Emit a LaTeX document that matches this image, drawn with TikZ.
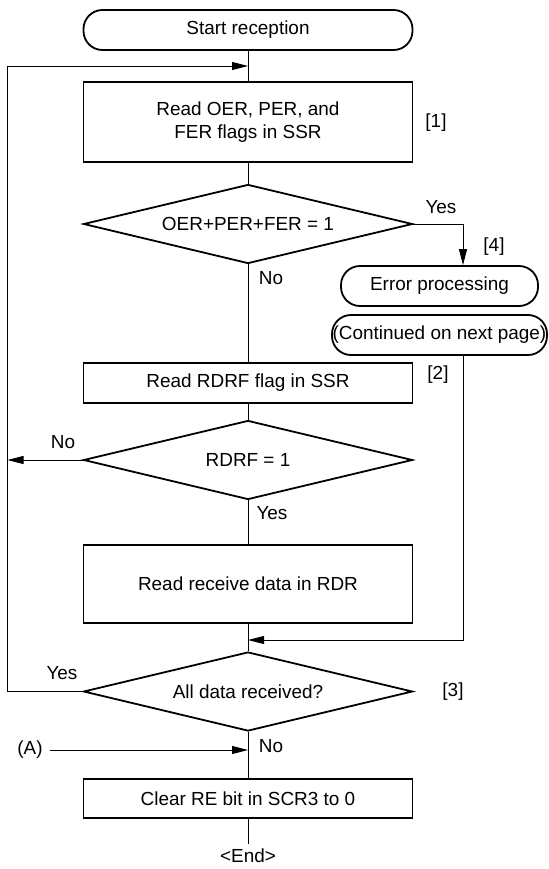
\documentclass[tikz,border=0pt]{standalone}
\usepackage{fontspec}
\setmainfont{Liberation Sans}
\usetikzlibrary{shapes.geometric,arrows.meta}

\begin{document}
\begin{tikzpicture}[x=1bp, y=-1bp,
        every node/.style={font=\fontsize{19}{23}\selectfont, inner sep=0pt},
        term/.style={draw, line width=1.8bp, rounded corners=19bp, minimum height=40bp},
        proc/.style={draw, line width=1.8bp, minimum width=329bp, align=center},
        test/.style={draw, line width=1.8bp, diamond, aspect=4.16, minimum width=329bp, minimum height=79bp},
        line/.style={line width=0.9bp},
        arrow/.style={line width=0.9bp, -{Triangle[length=16bp, width=8bp]}}]
        \useasboundingbox (0,0) rectangle (549,869);

        % Coordinates
        \coordinate (J1) at (248,66);
        \coordinate (J2) at (248,640);
        \coordinate (J3) at (248,750);
        \coordinate (L1) at (7.5,66);
        \coordinate (L2) at (7.5,460);
        \coordinate (L3) at (7.5,691.5);
        \coordinate (B1) at (463,224);
        \coordinate (B2) at (463,640);
        \coordinate (E1) at (248,844);

        % Nodes
        \node[term, minimum width=329bp] (start) at (248,30) {Start reception};
        \node[proc, minimum height=80bp] (rd1) at (248,122) {Read OER, PER, and\\FER flags in SSR};
        \node[test] (chk1) at (248,224) {OER+PER+FER = 1};
        \node[term, minimum width=197bp] (err) at (439.5,286) {Error processing};
        \node[term, minimum width=215bp] (cont) at (439.5,335) {(Continued on next page)};
        \node[proc, minimum height=40bp] (rd2) at (248,383) {Read RDRF flag in SSR};
        \node[test] (chk2) at (248,460) {RDRF = 1};
        \node[proc, minimum height=78bp] (rd3) at (248,584) {Read receive data in RDR};
        \node[test] (chk3) at (248,691.5) {All data received?};
        \node[proc, minimum height=39bp] (clr) at (248,798.5) {Clear RE bit in SCR3 to 0};
        \node (fin) at (248,856) {<End>};
        \node (A) at (30,750) {(A)};

        % Labels
        \node at (436,123) {[1]};
        \node at (438,375) {[2]};
        \node at (453,691.5) {[3]};
        \node at (494,247) {[4]};
        \node at (441,207) {Yes};
        \node at (271,278) {No};
        \node at (63,442) {No};
        \node at (272,513) {Yes};
        \node at (62,673) {Yes};
        \node at (271,746) {No};

        % Drawing
        \draw[line] (start) -- (rd1);
        \draw[line] (rd1) -- (chk1);
        \draw[line] (chk1) -- (rd2);
        \draw[line] (rd2) -- (chk2);
        \draw[line] (chk2) -- (rd3);
        \draw[line] (rd3) -- (chk3);
        \draw[line] (chk3) -- (clr);
        \draw[line] (clr) -- (E1);
        \draw[arrow] (L1) -- (J1);
        \draw[line] (chk3.west) -- (L3) -- (L1);
        \draw[arrow] (chk2.west) -- (L2);
        \draw[arrow] (chk1.east) -- (B1) -- (B1 |- err.north);
        \draw[arrow] (B1 |- cont.south) -- (B2) -- (J2);
        \draw[arrow] (A.east) ++(7,0) -- (J3);
\end{tikzpicture}
\end{document}
